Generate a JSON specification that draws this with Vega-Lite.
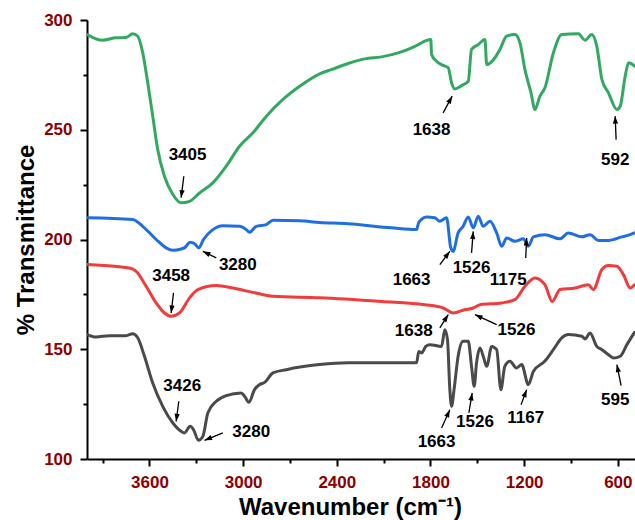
{
  "$schema": "https://vega.github.io/schema/vega-lite/v6.json",
  "width": 548,
  "height": 439,
  "autosize": {"type": "none"},
  "padding": {"left": 87, "top": 20, "right": 0, "bottom": 61},
  "background": "white",
  "config": {"view": {"stroke": null}, "font": "Liberation Sans"},
  "datasets": {
    "spectra": [
      {"s":"A","wn":4000,"t":293.4},{"s":"A","wn":3900,"t":290.8},{"s":"A","wn":3814,"t":291.9},{"s":"A","wn":3750,"t":292.0},{"s":"A","wn":3707,"t":293.7},{"s":"A","wn":3675,"t":292.6},{"s":"A","wn":3643,"t":285},{"s":"A","wn":3611,"t":271.4},{"s":"A","wn":3579,"t":256.2},{"s":"A","wn":3547,"t":241},{"s":"A","wn":3504,"t":228.8},{"s":"A","wn":3450,"t":220.5},{"s":"A","wn":3397,"t":216.7},{"s":"A","wn":3343,"t":217.4},{"s":"A","wn":3279,"t":221.2},{"s":"A","wn":3194,"t":225.8},{"s":"A","wn":3108,"t":233.4},{"s":"A","wn":3023,"t":242.5},{"s":"A","wn":2937,"t":248.6},{"s":"A","wn":2851,"t":256.2},{"s":"A","wn":2745,"t":263.8},{"s":"A","wn":2638,"t":269.8},{"s":"A","wn":2510,"t":275.5},{"s":"A","wn":2435,"t":277.4},{"s":"A","wn":2328,"t":280.2},{"s":"A","wn":2221,"t":282.3},{"s":"A","wn":2114,"t":283.2},{"s":"A","wn":2007,"t":285},{"s":"A","wn":1900,"t":288},{"s":"A","wn":1798,"t":291.1},{"s":"A","wn":1793,"t":284.3},{"s":"A","wn":1761,"t":281.2},{"s":"A","wn":1718,"t":279.3},{"s":"A","wn":1686,"t":278.2},{"s":"A","wn":1665,"t":271.4},{"s":"A","wn":1644,"t":268.6},{"s":"A","wn":1601,"t":270.1},{"s":"A","wn":1558,"t":272.1},{"s":"A","wn":1537,"t":286.6},{"s":"A","wn":1494,"t":288.8},{"s":"A","wn":1451,"t":291.1},{"s":"A","wn":1440,"t":279.7},{"s":"A","wn":1387,"t":282.8},{"s":"A","wn":1355,"t":286.6},{"s":"A","wn":1312,"t":292.6},{"s":"A","wn":1259,"t":293.4},{"s":"A","wn":1227,"t":289.6},{"s":"A","wn":1195,"t":277.4},{"s":"A","wn":1156,"t":266.8},{"s":"A","wn":1131,"t":259.2},{"s":"A","wn":1099,"t":265.3},{"s":"A","wn":1067,"t":269.1},{"s":"A","wn":1013,"t":285},{"s":"A","wn":959,"t":293.4},{"s":"A","wn":853,"t":293.7},{"s":"A","wn":810,"t":290.8},{"s":"A","wn":767,"t":293.4},{"s":"A","wn":735,"t":288.1},{"s":"A","wn":702,"t":272.9},{"s":"A","wn":660,"t":266.8},{"s":"A","wn":606,"t":259.2},{"s":"A","wn":585,"t":260.7},{"s":"A","wn":553,"t":274.4},{"s":"A","wn":531,"t":280.5},{"s":"A","wn":493,"t":279},
      {"s":"B","wn":4000,"t":209.9},{"s":"B","wn":3707,"t":209.1},{"s":"B","wn":3643,"t":206},{"s":"B","wn":3557,"t":200},{"s":"B","wn":3493,"t":196.2},{"s":"B","wn":3450,"t":195.1},{"s":"B","wn":3397,"t":195.7},{"s":"B","wn":3376,"t":196.2},{"s":"B","wn":3339,"t":198.7},{"s":"B","wn":3311,"t":198.1},{"s":"B","wn":3284,"t":196.2},{"s":"B","wn":3254,"t":200},{"s":"B","wn":3194,"t":204.5},{"s":"B","wn":3130,"t":206.3},{"s":"B","wn":3023,"t":206},{"s":"B","wn":2980,"t":204.5},{"s":"B","wn":2959,"t":203.3},{"s":"B","wn":2916,"t":206},{"s":"B","wn":2851,"t":206.8},{"s":"B","wn":2809,"t":208.8},{"s":"B","wn":2638,"t":208.5},{"s":"B","wn":2510,"t":207.8},{"s":"B","wn":2328,"t":207.2},{"s":"B","wn":2050,"t":205.3},{"s":"B","wn":1889,"t":204.5},{"s":"B","wn":1875,"t":207.8},{"s":"B","wn":1825,"t":210.3},{"s":"B","wn":1772,"t":209.9},{"s":"B","wn":1740,"t":208.3},{"s":"B","wn":1697,"t":209.9},{"s":"B","wn":1670,"t":196.2},{"s":"B","wn":1655,"t":194.6},{"s":"B","wn":1623,"t":203},{"s":"B","wn":1591,"t":206},{"s":"B","wn":1558,"t":210.3},{"s":"B","wn":1526,"t":205.3},{"s":"B","wn":1494,"t":210.6},{"s":"B","wn":1462,"t":206},{"s":"B","wn":1419,"t":208.3},{"s":"B","wn":1376,"t":203},{"s":"B","wn":1344,"t":196.9},{"s":"B","wn":1312,"t":200.7},{"s":"B","wn":1259,"t":199.2},{"s":"B","wn":1205,"t":200.3},{"s":"B","wn":1173,"t":196.9},{"s":"B","wn":1141,"t":201.2},{"s":"B","wn":1067,"t":202.2},{"s":"B","wn":970,"t":200.3},{"s":"B","wn":917,"t":203},{"s":"B","wn":831,"t":201.2},{"s":"B","wn":778,"t":202.2},{"s":"B","wn":725,"t":199.6},{"s":"B","wn":660,"t":199.6},{"s":"B","wn":575,"t":201.2},{"s":"B","wn":521,"t":202.2},{"s":"B","wn":493,"t":203},
      {"s":"C","wn":4000,"t":188.6},{"s":"C","wn":3728,"t":187},{"s":"C","wn":3685,"t":185.5},{"s":"C","wn":3621,"t":178.7},{"s":"C","wn":3557,"t":171.1},{"s":"C","wn":3504,"t":166.5},{"s":"C","wn":3461,"t":165},{"s":"C","wn":3408,"t":166.5},{"s":"C","wn":3343,"t":173.4},{"s":"C","wn":3290,"t":177.2},{"s":"C","wn":3172,"t":179},{"s":"C","wn":3066,"t":177.9},{"s":"C","wn":2937,"t":175.9},{"s":"C","wn":2809,"t":174.1},{"s":"C","wn":2510,"t":173.5},{"s":"C","wn":2114,"t":171.8},{"s":"C","wn":1836,"t":170.3},{"s":"C","wn":1718,"t":168.8},{"s":"C","wn":1655,"t":166.5},{"s":"C","wn":1580,"t":168},{"s":"C","wn":1526,"t":168.8},{"s":"C","wn":1483,"t":170.3},{"s":"C","wn":1344,"t":171.1},{"s":"C","wn":1259,"t":172.6},{"s":"C","wn":1195,"t":178.7},{"s":"C","wn":1131,"t":182.5},{"s":"C","wn":1067,"t":179.4},{"s":"C","wn":1020,"t":171.8},{"s":"C","wn":970,"t":177.2},{"s":"C","wn":874,"t":177.9},{"s":"C","wn":789,"t":179.4},{"s":"C","wn":757,"t":177.2},{"s":"C","wn":702,"t":186.3},{"s":"C","wn":660,"t":188.1},{"s":"C","wn":606,"t":187.8},{"s":"C","wn":564,"t":184},{"s":"C","wn":521,"t":177.9},{"s":"C","wn":493,"t":179.4},
      {"s":"D","wn":4000,"t":156.7},{"s":"D","wn":3942,"t":155.6},{"s":"D","wn":3857,"t":156.2},{"s":"D","wn":3750,"t":156.2},{"s":"D","wn":3707,"t":157.1},{"s":"D","wn":3675,"t":155.2},{"s":"D","wn":3632,"t":146.8},{"s":"D","wn":3579,"t":134.6},{"s":"D","wn":3515,"t":124},{"s":"D","wn":3450,"t":116.4},{"s":"D","wn":3397,"t":112.6},{"s":"D","wn":3376,"t":111.9},{"s":"D","wn":3339,"t":114.9},{"s":"D","wn":3318,"t":113.4},{"s":"D","wn":3286,"t":108.5},{"s":"D","wn":3258,"t":110.3},{"s":"D","wn":3226,"t":121},{"s":"D","wn":3172,"t":126.3},{"s":"D","wn":3108,"t":128.9},{"s":"D","wn":3012,"t":130.1},{"s":"D","wn":2990,"t":128.5},{"s":"D","wn":2963,"t":125.8},{"s":"D","wn":2927,"t":131.6},{"s":"D","wn":2894,"t":133.9},{"s":"D","wn":2862,"t":134.9},{"s":"D","wn":2809,"t":139.2},{"s":"D","wn":2723,"t":140.7},{"s":"D","wn":2510,"t":143},{"s":"D","wn":2328,"t":143.8},{"s":"D","wn":2050,"t":143.8},{"s":"D","wn":1889,"t":143.8},{"s":"D","wn":1875,"t":149},{"s":"D","wn":1857,"t":148.3},{"s":"D","wn":1830,"t":151.3},{"s":"D","wn":1804,"t":152.1},{"s":"D","wn":1729,"t":151.3},{"s":"D","wn":1708,"t":158.9},{"s":"D","wn":1691,"t":154.3},{"s":"D","wn":1676,"t":131.6},{"s":"D","wn":1665,"t":124},{"s":"D","wn":1649,"t":131.6},{"s":"D","wn":1623,"t":146.8},{"s":"D","wn":1591,"t":153.6},{"s":"D","wn":1558,"t":153.6},{"s":"D","wn":1537,"t":142.2},{"s":"D","wn":1520,"t":133.1},{"s":"D","wn":1505,"t":143.8},{"s":"D","wn":1483,"t":150.6},{"s":"D","wn":1462,"t":146.8},{"s":"D","wn":1440,"t":142.2},{"s":"D","wn":1408,"t":151.3},{"s":"D","wn":1376,"t":149.8},{"s":"D","wn":1349,"t":131.6},{"s":"D","wn":1324,"t":142.2},{"s":"D","wn":1291,"t":144.5},{"s":"D","wn":1249,"t":141.5},{"s":"D","wn":1216,"t":143},{"s":"D","wn":1173,"t":133.9},{"s":"D","wn":1141,"t":139.9},{"s":"D","wn":1067,"t":144.6},{"s":"D","wn":1013,"t":149.8},{"s":"D","wn":959,"t":155.2},{"s":"D","wn":917,"t":156.7},{"s":"D","wn":831,"t":155.9},{"s":"D","wn":810,"t":154.7},{"s":"D","wn":778,"t":157.4},{"s":"D","wn":735,"t":151.3},{"s":"D","wn":702,"t":149.8},{"s":"D","wn":660,"t":147.5},{"s":"D","wn":628,"t":146},{"s":"D","wn":585,"t":146.8},{"s":"D","wn":542,"t":152.1},{"s":"D","wn":493,"t":157.7}
    ],
    "labels": [
      {"label":"3405","wn":3356,"t":238.3},{"label":"1638","wn":1793,"t":249.8},{"label":"592","wn":617,"t":236.1},
      {"label":"3280","wn":3034,"t":188.6},{"label":"1663","wn":1921,"t":181.7},{"label":"1526","wn":1537,"t":187},{"label":"1175","wn":1302,"t":181.7},
      {"label":"3458","wn":3461,"t":183.2},{"label":"1638","wn":1907,"t":158.2},{"label":"1526","wn":1249,"t":158.9},
      {"label":"3426","wn":3390,"t":133.1},{"label":"3280","wn":2948,"t":112.1},{"label":"1663","wn":1761,"t":107.6},{"label":"1526","wn":1515,"t":116.9},{"label":"1167","wn":1190,"t":118.7},{"label":"595","wn":617,"t":127}
    ],
    "arrows": [
      {"wn0":3380,"t0":228.8,"wn":3397,"t":219},
      {"wn0":1719,"t0":257.7,"wn":1661,"t":265.3},
      {"wn0":611,"t0":245.5,"wn":617,"t":256.2},
      {"wn0":3172,"t0":191.6,"wn":3258,"t":194.6},
      {"wn0":1740,"t0":188.6,"wn":1676,"t":194.6},
      {"wn0":1537,"t0":193.9,"wn":1526,"t":203.7},
      {"wn0":1190,"t0":191.6,"wn":1184,"t":200.7},
      {"wn0":3446,"t0":175.7,"wn":3461,"t":166.5},
      {"wn0":1740,"t0":159.7,"wn":1686,"t":165.8},
      {"wn0":1376,"t0":161.2,"wn":1515,"t":165.8},
      {"wn0":3412,"t0":126.3,"wn":3429,"t":117.1},
      {"wn0":3130,"t0":111.9,"wn":3247,"t":108.5},
      {"wn0":1729,"t0":114.1,"wn":1676,"t":122.4},
      {"wn0":1554,"t0":121,"wn":1533,"t":130.1},
      {"wn0":1220,"t0":124.7,"wn":1184,"t":131.6},
      {"wn0":579,"t0":133.4,"wn":606,"t":143}
    ]
  },
  "encoding": {
    "x": {
      "field": "wn", "type": "quantitative",
      "scale": {"domain": [490, 4000], "reverse": true, "nice": false, "zero": false},
      "axis": {
        "title": "Wavenumber (cm⁻¹)",
        "values": [3900, 3600, 3300, 3000, 2700, 2400, 2100, 1800, 1500, 1200, 900, 600],
        "labelExpr": "datum.value % 600 === 0 ? datum.label : ''",
        "format": "d",
        "grid": false,
        "domainColor": "black", "domainWidth": 2,
        "tickColor": "black", "tickWidth": 2,
        "tickSize": {"condition": {"test": "datum.value % 600 === 0", "value": 7}, "value": 4},
        "labelPadding": 8,
        "labelFont": "Liberation Sans", "labelFontSize": 17, "labelFontWeight": "bold", "labelColor": "#8b0000",
        "labelFlush": false, "labelOverlap": false,
        "titleFont": "Liberation Sans", "titleFontSize": 24, "titleFontWeight": "bold", "titleColor": "black",
        "titleX": 263, "titleY": 55, "titleAlign": "center", "titleBaseline": "alphabetic", "titleAnchor": null
      }
    },
    "y": {
      "field": "t", "type": "quantitative",
      "scale": {"domain": [100, 300], "nice": false, "zero": false},
      "axis": {
        "title": "% Transmittance",
        "values": [100, 125, 150, 175, 200, 225, 250, 275, 300],
        "labelExpr": "datum.value % 50 === 0 ? datum.label : ''",
        "grid": false,
        "domainColor": "black", "domainWidth": 2,
        "tickColor": "black", "tickWidth": 2,
        "tickSize": {"condition": {"test": "datum.value % 50 === 0", "value": 7}, "value": 4},
        "labelPadding": 8,
        "labelFont": "Liberation Sans", "labelFontSize": 17, "labelFontWeight": "bold", "labelColor": "#8b0000",
        "labelFlush": false, "labelOverlap": false,
        "titleFont": "Liberation Sans", "titleFontSize": 24, "titleFontWeight": "bold", "titleColor": "black",
        "titleX": -54, "titleY": 219.5, "titleAngle": -90, "titleAlign": "center", "titleBaseline": "alphabetic", "titleAnchor": null
      }
    }
  },
  "layer": [
    {
      "data": {"name": "spectra"},
      "mark": {"type": "line", "strokeWidth": 3, "strokeJoin": "round", "strokeCap": "round", "interpolate": "monotone", "clip": true},
      "encoding": {
        "color": {"field": "s", "type": "nominal", "legend": null,
          "scale": {"domain": ["A", "B", "C", "D"], "range": ["#33a861", "#1f6fe0", "#f03c3c", "#4a4a4a"]}},
        "order": {"field": "wn", "type": "quantitative", "sort": "descending"}
      }
    },
    {
      "data": {"name": "arrows"},
      "mark": {"type": "rule", "color": "black", "strokeWidth": 1.3},
      "encoding": {
        "x2": {"field": "wn0"},
        "y2": {"field": "t0"}
      }
    },
    {
      "data": {"name": "arrows"},
      "transform": [
        {"calculate": "atan2(-(datum.wn - datum.wn0) * 548 / 3510, (datum.t - datum.t0) * 439 / 200) * 180 / PI", "as": "ang"}
      ],
      "mark": {"type": "point", "shape": "M0,0L-0.55,1.6L0.55,1.6Z", "filled": true, "color": "black", "size": 90, "opacity": 1},
      "encoding": {
        "angle": {"field": "ang", "type": "quantitative", "scale": null}
      }
    },
    {
      "data": {"name": "labels"},
      "mark": {"type": "text", "font": "Liberation Sans", "fontSize": 17, "fontWeight": "bold", "color": "black", "align": "center", "baseline": "middle"},
      "encoding": {
        "text": {"field": "label", "type": "nominal"}
      }
    }
  ]
}
